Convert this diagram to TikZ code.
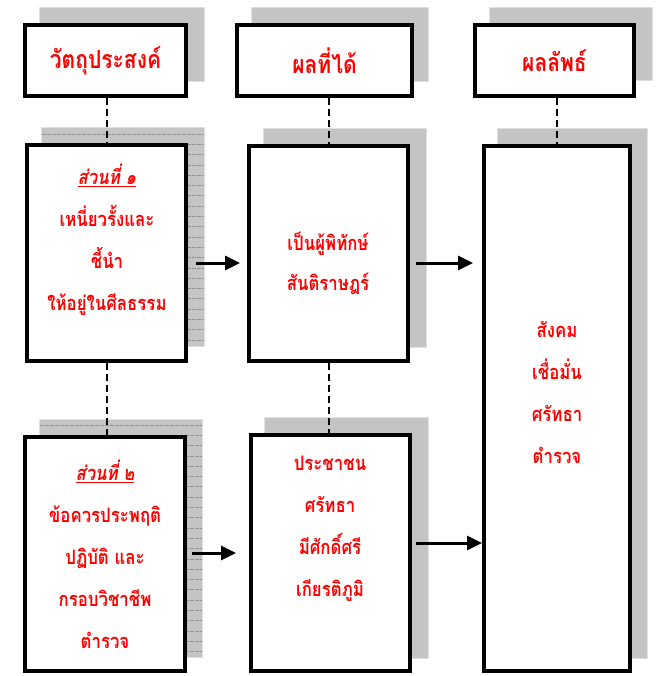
\documentclass[tikz,border=0pt]{standalone}
\usepackage{fontspec}
\newfontfamily\thai[Script=Thai, FakeStretch=0.84]{Loma}
\usetikzlibrary{arrows.meta}
\tikzset{
  x=1pt, y=-1pt,
  box/.style={draw=black, line width=4pt, fill=white, inner sep=0pt},
  headbox/.style={box, text=red, font=\thai\bfseries\fontsize{25}{30}\selectfont},
  shadowbox/.style={draw=black!12, line width=1pt, fill=black!23},
  txt/.style={text=red, font=\thai\bfseries\fontsize{20}{42}\selectfont, align=center, inner sep=0pt},
  link/.style={line width=2pt, dash pattern=on 7pt off 4pt},
  arr/.style={line width=3pt, -{Triangle[length=15pt,width=14pt]}},
  rule/.style={black!42, line width=0.7pt, dash pattern=on 4pt off 1pt}
}
\begin{document}
\begin{tikzpicture}
\useasboundingbox (0,0) rectangle (665,676);
% shadows
\draw[shadowbox] (39.5,7.5) rectangle (204.5,81.5);
\draw[shadowbox] (251.5,7.5) rectangle (428.5,81.5);
\draw[shadowbox] (489.5,7.5) rectangle (652.5,80.5);
\draw[shadowbox] (41.5,127.5) rectangle (204.5,346.5);
\draw[shadowbox] (39.5,419.5) rectangle (202.5,657.5);
\draw[shadowbox] (263.5,128.5) rectangle (426.5,347.5);
\draw[shadowbox] (264.5,417.5) rectangle (428.5,658.5);
\draw[shadowbox] (497.5,128.5) rectangle (647.5,658.5);
% ruled lines on left shadows
\foreach \yy in {134,144.3,...,345} \draw[rule] (42,\yy) -- (204,\yy);
\foreach \yy in {425,435.3,...,656} \draw[rule] (40,\yy) -- (202,\yy);
% header boxes
\node[headbox, minimum width=161pt, minimum height=71pt] (h1) at (105.5,60.5) {วัตถุประสงค์};
\node[headbox, minimum width=175pt, minimum height=71pt] (h2) at (324.5,60.5) {ผลที่ได้};
\node[headbox, minimum width=159pt, minimum height=71pt] (h3) at (554.5,60.5) {ผลลัพธ์};
% main boxes
\node[box, minimum width=159pt, minimum height=216pt] (b11) at (106.5,253) {};
\node[box, minimum width=160pt, minimum height=234pt] (b12) at (105,554) {};
\node[box, minimum width=159pt, minimum height=215pt] (b21) at (328.5,253.5) {};
\node[box, minimum width=159pt, minimum height=236pt] (b22) at (330.5,553) {};
\node[box, minimum width=146pt, minimum height=525pt] (b3) at (557,408.5) {};
% texts
\node[txt] (t11) at (107,240) {\underline{\itshape ส่วนที่ ๑}\\เหนี่ยวรั้งและ\\ชี้นำ\\ให้อยู่ในศีลธรรม};
\node[txt] (t12) at (105,554) {\underline{\itshape ส่วนที่ ๒}\\ข้อควรประพฤติ\\ปฏิบัติ และ\\กรอบวิชาชีพ\\ตำรวจ};
\node[txt] (t21) at (328,263) {เป็นผู้พิทักษ์\\[-2pt]สันติราษฎร์};
\node[txt] (t22) at (330,529) {ประชาชน\\ศรัทธา\\มีศักดิ์ศรี\\เกียรติภูมิ};
\node[txt] (t3) at (557,392) {สังคม\\เชื่อมั่น\\ศรัทธา\\ตำรวจ};
% dashed links
\draw[link] (b11.north |- h1.south) -- (b11.north);
\draw[link] (b11.south) -- (b11.south |- b12.north);
\draw[link] (b21.north |- h2.south) -- (b21.north);
\draw[link] (b21.south) -- (b21.south |- b22.north);
\draw[link] (b3.north |- h3.south) -- (b3.north);
% arrows
\coordinate (a1s) at ([yshift=-10pt]b11.east);
\coordinate (a2s) at ([yshift=-9.5pt]b21.east);
\coordinate (a3s) at ([yshift=1pt]b12.east);
\coordinate (a4s) at ([yshift=10pt]b22.east);
\draw[arr, shorten <=8pt, shorten >=7pt] (a1s) -- (a1s -| b21.west);
\draw[arr, shorten <=6pt, shorten >=9pt] (a2s) -- (a2s -| b3.west);
\draw[arr, shorten <=5pt, shorten >=13pt] (a3s) -- (a3s -| b22.west);
\draw[arr, shorten <=4pt, shorten >=0pt] (a4s) -- (a4s -| b3.west);
\end{tikzpicture}
\end{document}
